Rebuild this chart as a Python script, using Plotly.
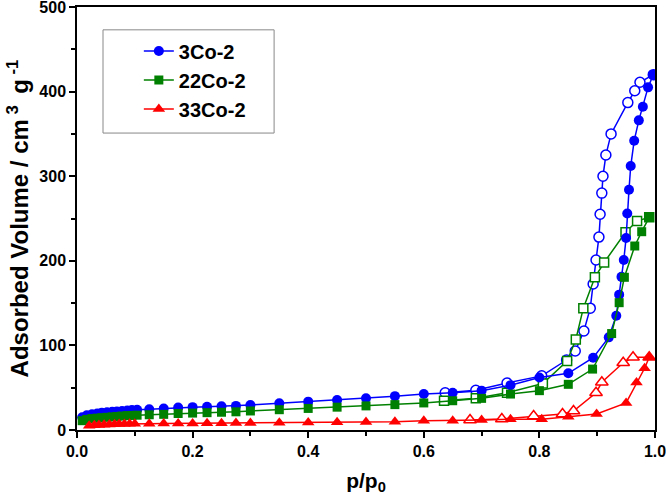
import plotly.graph_objects as go

# ---- data ----
co3_ads_x = [0.009, 0.017, 0.026, 0.035, 0.043, 0.052, 0.061, 0.069, 0.078, 0.087, 0.095, 0.104,
             0.125, 0.15, 0.175, 0.2, 0.225, 0.25, 0.275, 0.3, 0.35, 0.4, 0.45, 0.5, 0.55, 0.6,
             0.65, 0.7, 0.75, 0.8, 0.85, 0.893, 0.92, 0.933, 0.938, 0.942, 0.946, 0.95, 0.952,
             0.955, 0.958, 0.964, 0.972, 0.979, 0.988, 0.997]
co3_ads_y = [15, 17.5, 18.5, 19.5, 20.5, 21, 21.5, 22, 22.5, 23, 23.5, 24,
             24.5, 25.5, 26.5, 27, 27.5, 28, 28.5, 29.5, 31.5, 33.5, 35.5, 37.5, 40, 42.5,
             44, 46.5, 53, 62, 67, 85.5, 109.5, 135, 160, 181, 201, 227, 256,
             284, 312, 342, 366, 382, 405, 420]
co3_des_x = [0.997, 0.974, 0.965, 0.953, 0.924, 0.915, 0.910, 0.908, 0.905, 0.903, 0.898, 0.893,
             0.888, 0.877, 0.862, 0.847, 0.804, 0.744, 0.69, 0.637]
co3_des_y = [420, 411, 401, 387, 350, 325, 300, 280, 255, 228, 201, 172.6,
             144, 117, 93.4, 82.7, 64, 55.5, 47, 44]

co22_ads_x = co3_ads_x[:31] + [0.892, 0.925, 0.938, 0.947, 0.965, 0.977, 0.99]
co22_ads_y = [11, 12.5, 13.5, 14, 14.5, 15, 15.5, 16, 16.5, 17, 17.2, 17.5,
              18, 18.5, 19.5, 20, 20.5, 21, 21.5, 22.5, 24, 25.5, 27, 28.5, 30, 32,
              34.6, 37.4, 42.5, 46.5, 54, 72, 114, 150.5, 180.5, 217.5, 234.4, 251.4]
co22_des_x = [0.99, 0.969, 0.949, 0.912, 0.896, 0.876, 0.863, 0.848, 0.806, 0.744, 0.69, 0.635]
co22_des_y = [251.4, 247, 233.7, 198, 180.5, 144, 107, 81.6, 55, 44, 37.4, 34.6]

co33_ads_x = [0.021, 0.03, 0.038, 0.047, 0.056, 0.065, 0.073, 0.082, 0.091, 0.1,
              0.125, 0.15, 0.175, 0.2, 0.225, 0.25, 0.275, 0.3, 0.35, 0.4, 0.45, 0.5, 0.55, 0.6,
              0.65, 0.7, 0.75, 0.804, 0.85, 0.899, 0.95, 0.968, 0.982, 0.99]
co33_ads_y = [5, 5.5, 6, 6.2, 6.5, 6.7, 7, 7.2, 7.4, 7.5,
              7.5, 7.6, 7.7, 7.8, 8, 8.1, 8.2, 8.4, 8.7, 9, 9.3, 9.6, 9.8, 11,
              11, 11.8, 12.6, 12.6, 15.7, 19, 32, 56, 73, 86]
co33_des_x = [0.99, 0.962, 0.945, 0.908, 0.898, 0.859, 0.84, 0.79, 0.735, 0.68]
co33_des_y = [86, 86, 79.5, 56.4, 44, 22.5, 19, 16.5, 13, 11.8]

series = [
    ("3Co-2", "#0000FF", "circle", 10, co3_ads_x, co3_ads_y, co3_des_x, co3_des_y),
    ("22Co-2", "#008000", "square", 9, co22_ads_x, co22_ads_y, co22_des_x, co22_des_y),
    ("33Co-2", "#FF0000", "triangle-up", 11, co33_ads_x, co33_ads_y, co33_des_x, co33_des_y),
]

fig = go.Figure()
# desorption (open symbols) first
for name, col, sym, sz, ax, ay, dx, dy in series:
    fig.add_trace(go.Scatter(
        x=dx, y=dy, mode="lines+markers", name=name + " des", showlegend=False,
        line=dict(color=col, width=1.5),
        marker=dict(symbol=sym, size=sz, color="white", line=dict(color=col, width=1.5)),
    ))
for name, col, sym, sz, ax, ay, dx, dy in series:
    fig.add_trace(go.Scatter(
        x=ax, y=ay, mode="lines+markers", name=name,
        line=dict(color=col, width=1.5),
        marker=dict(symbol=sym, size=sz, color=col, line=dict(width=0)),
    ))

font_fam = "Liberation Sans, Arial, sans-serif"
fig.update_layout(
    width=666, height=502,
    margin=dict(l=77, r=11, t=7, b=72, autoexpand=False),
    paper_bgcolor="white", plot_bgcolor="white",
    font=dict(family=font_fam, color="black"),
    showlegend=True,
    legend=dict(
        x=0.107, y=0.942, xanchor="left", yanchor="top",
        borderwidth=0, bgcolor="rgba(0,0,0,0)",
        font=dict(size=20, family=font_fam, weight="bold"),
    ),
    shapes=[dict(type="rect", xref="paper", yref="paper",
                 x0=0.045, x1=0.341, y0=0.702, y1=0.946,
                 line=dict(color="#888888", width=1), fillcolor="white", layer="below")],
)
fig.update_xaxes(
    range=[0, 1.0], tickmode="array", automargin=False,
    tickvals=[0, 0.2, 0.4, 0.6, 0.8, 1.0], ticktext=["0.0", "0.2", "0.4", "0.6", "0.8", "1.0"],
    ticks="outside", ticklen=6, tickwidth=1.5, tickcolor="black",
    minor=dict(tickvals=[0.1, 0.3, 0.5, 0.7, 0.9], ticks="outside", ticklen=4, tickwidth=1.5, tickcolor="black"),
    showline=True, linecolor="black", linewidth=1.5, mirror=True,
    showgrid=False, zeroline=False, ticklabeloverflow="allow",
    tickfont=dict(size=16, family=font_fam, weight="bold"),
    title=dict(text="p/p<sub>0</sub>", font=dict(size=21, family=font_fam, weight="bold"), standoff=14),
)
fig.update_yaxes(
    range=[0, 500], tickmode="array", automargin=False,
    tickvals=[0, 100, 200, 300, 400, 500],
    ticks="outside", ticklen=6, tickwidth=1.5, tickcolor="black",
    minor=dict(tickvals=[50, 150, 250, 350, 450], ticks="outside", ticklen=4, tickwidth=1.5, tickcolor="black"),
    showline=True, linecolor="black", linewidth=1.5, mirror=True,
    showgrid=False, zeroline=False, ticklabeloverflow="allow",
    tickfont=dict(size=16, family=font_fam, weight="bold"),
    title=dict(text="Adsorbed Volume / cm<sup> 3 </sup> g<sup> -1</sup>", font=dict(size=24, family=font_fam, weight="bold"), standoff=4),
)

fig.write_html("out.html", config={"displayModeBar": False},
               post_script="document.body.style.margin='0';document.body.style.padding='0';")
